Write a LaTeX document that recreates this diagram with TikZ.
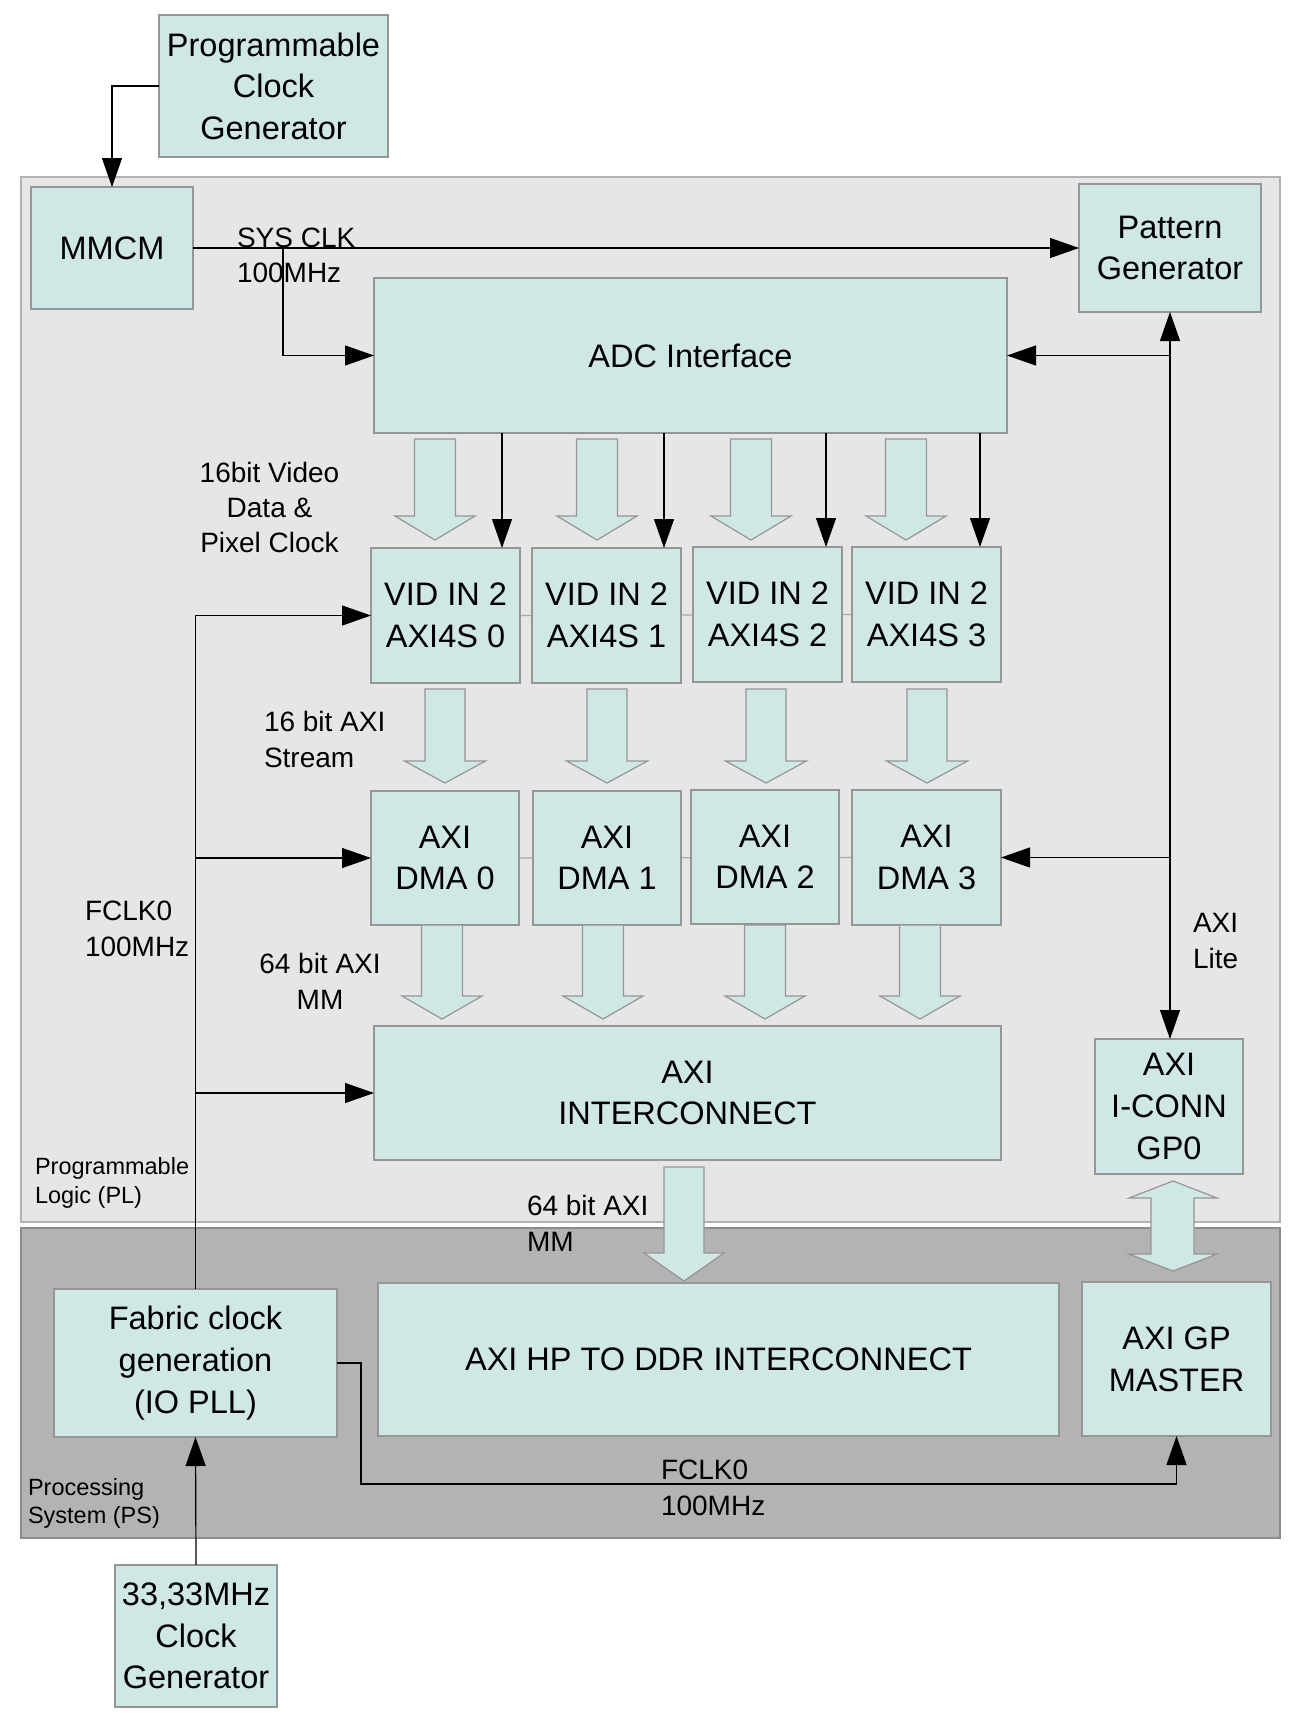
\documentclass[tikz,border=0pt]{standalone}
\usepackage{fontspec}
\setmainfont{Liberation Sans}
\usetikzlibrary{arrows.meta}
\definecolor{boxfill}{RGB}{207,231,229}
\definecolor{boxline}{RGB}{150,150,150}
\definecolor{plfill}{RGB}{230,230,230}
\definecolor{plline}{RGB}{178,178,178}
\definecolor{psfill}{RGB}{179,179,179}
\definecolor{psline}{RGB}{140,140,140}
\definecolor{faintline}{RGB}{170,170,170}
\pgfdeclarelayer{bg}\pgfdeclarelayer{mid}\pgfsetlayers{bg,mid,main}
\newcommand\centerlines[2]{\vtop{\baselineskip=#1\lineskiplimit=-20pt\tabskip=0pt\halign{\hfil##\hfil\cr#2\crcr}}}
\newcommand\leftlines[2]{\vtop{\baselineskip=#1\lineskiplimit=-20pt\tabskip=0pt\halign{##\hfil\cr#2\crcr}}}
% style, name, x1, y1, x2, y2, text
\newcommand\rectnode[7]{\node[#1,minimum width={(#5-#3)*0.5pt},minimum height={(#6-#4)*0.5pt}] (#2) at ({(#3+#5)/2},{(#4+#6)/2}) {#7};}
% cx, ytop, yhead, ytip, shaft half, head half
\newcommand\blockarrow[6]{\draw[barrow] ({#1-#5},#2) -- ({#1+#5},#2) -- ({#1+#5},#3) -- ({#1+#6},#3) -- (#1,#4) -- ({#1-#6},#3) -- ({#1-#5},#3) -- cycle;}
\tikzset{
  box/.style={draw=boxline,fill=boxfill,line width=0.6pt,inner sep=0pt,outer sep=0pt,align=center,
    font=\fontsize{16.25pt}{20.8pt}\selectfont},
  plreg/.style={draw=plline,fill=plfill,line width=0.6pt,inner sep=0pt,outer sep=0pt},
  psreg/.style={draw=psline,fill=psfill,line width=0.6pt,inner sep=0pt,outer sep=0pt},
  barrow/.style={draw=boxline,fill=boxfill,line width=0.6pt,line join=miter},
  conn/.style={draw=black,line width=0.6pt,-{Triangle[length=14.5pt,width=10pt]}},
  biconn/.style={draw=black,line width=0.6pt,{Triangle[length=14.5pt,width=10pt]}-{Triangle[length=14.5pt,width=10pt]}},
  plainline/.style={draw=black,line width=0.6pt},
  faint/.style={draw=faintline,line width=0.6pt},
  lab/.style={inner sep=0pt,outer sep=0pt,font=\fontsize{14pt}{18pt}\selectfont},
  tinylab/.style={inner sep=0pt,outer sep=0pt,font=\fontsize{11.75pt}{14pt}\selectfont},
}
\begin{document}
\begin{tikzpicture}[x=0.5pt,y=-0.5pt]
\useasboundingbox (0,0) rectangle (1297,1724);
\begin{pgfonlayer}{bg}
\fill[white] (0,0) rectangle (1297,1724);
\rectnode{plreg}{pl}{21}{177}{1280}{1222}{}
\rectnode{psreg}{ps}{21}{1228}{1280}{1538}{}
\end{pgfonlayer}

% boxes
\rectnode{box}{pcg}{159}{15}{388}{157}{Programmable\\Clock\\Generator}
\rectnode{box}{mmcm}{31}{187}{193}{309}{MMCM}
\rectnode{box}{patgen}{1079}{184}{1261}{312}{Pattern\\Generator}
\rectnode{box}{adc}{374}{278}{1007}{433}{ADC Interface}
\rectnode{box}{vid0}{371}{548}{520}{683}{VID IN 2\\AXI4S 0}
\rectnode{box}{vid1}{532}{548}{681}{683}{VID IN 2\\AXI4S 1}
\rectnode{box}{vid2}{693}{547}{842}{682}{VID IN 2\\AXI4S 2}
\rectnode{box}{vid3}{852}{547}{1001}{682}{VID IN 2\\AXI4S 3}
\rectnode{box}{dma0}{371}{791}{519}{925}{AXI\\DMA 0}
\rectnode{box}{dma1}{533}{791}{681}{925}{AXI\\DMA 1}
\rectnode{box}{dma2}{691}{790}{839}{924}{AXI\\DMA 2}
\rectnode{box}{dma3}{852}{790}{1001}{925}{AXI\\DMA 3}
\rectnode{box}{ic}{374}{1026}{1001}{1160}{AXI\\INTERCONNECT}
\rectnode{box}{iconn}{1095}{1039}{1243}{1174}{AXI\\I-CONN\\GP0}
\rectnode{box}{fabric}{54}{1289}{337}{1437}{Fabric clock\\generation\\(IO PLL)}
\rectnode{box}{hp}{378}{1283}{1059}{1436}{AXI HP TO DDR INTERCONNECT}
\rectnode{box}{gp}{1082}{1282}{1271}{1436}{AXI GP\\MASTER}
\rectnode{box}{clk33}{115}{1565}{277}{1707}{33,33MHz\\Clock\\Generator}

% faint lines between boxes
\begin{pgfonlayer}{mid}
\draw[faint] (vid0.east) -- (vid3.west);
\draw[faint] (dma0.east) -- (dma3.west);
\end{pgfonlayer}

% block arrows ADC -> VID
\blockarrow{435}{439}{516}{540}{20.5}{40}
\blockarrow{597}{439}{516}{540}{20.5}{40}
\blockarrow{751}{439}{516}{540}{20.5}{40}
\blockarrow{906}{439}{516}{540}{20.5}{40}
% VID -> DMA
\blockarrow{445}{689}{761}{783}{20}{40.5}
\blockarrow{607}{689}{761}{783}{20}{40.5}
\blockarrow{766}{689}{761}{783}{20}{40.5}
\blockarrow{927}{689}{761}{783}{20}{40.5}
% DMA -> IC
\blockarrow{442}{925}{996}{1019}{20.5}{40}
\blockarrow{603}{925}{996}{1019}{20.5}{40}
\blockarrow{765}{925}{996}{1019}{20.5}{40}
\blockarrow{920}{925}{996}{1019}{20.5}{40}
% IC -> HP
\blockarrow{684}{1167}{1253}{1281}{20}{40}
% double arrow I-CONN <-> GP
\draw[barrow] (1173,1181) -- (1217,1198) -- (1194,1198) -- (1194,1254) -- (1217,1254) -- (1173,1271)
  -- (1129,1254) -- (1151,1254) -- (1151,1198) -- (1129,1198) -- cycle;

% thin arrows ADC -> VID
\draw[conn] (adc.south -| 502,0) -- (502,548);
\draw[conn] (adc.south -| 664,0) -- (664,548);
\draw[conn] (adc.south -| 826,0) -- (826,547);
\draw[conn] (adc.south -| 980,0) -- (980,547);

% clock connectors
\draw[conn] (pcg.west) -| (mmcm.north);
\draw[conn] (mmcm.east) -- (patgen.west);
\coordinate (sysbr) at (283,248);
\draw[conn] (sysbr) |- (adc.west);
\draw[biconn] (patgen.south) -- (patgen.south |- iconn.north);
\draw[conn] (patgen.south |- adc.east) -- (adc.east);
\draw[conn] (patgen.south |- dma3.east) -- (dma3.east);
\draw[conn] (fabric.north) |- (vid0.west);
\draw[conn] (fabric.north |- dma0.west) -- (dma0.west);
\draw[conn] (fabric.north |- ic.west) -- (ic.west);
\coordinate (fk1) at (361,1484);
\draw[conn] (fabric.east) -| (fk1) -| (gp.south);
\draw[conn] (clk33.north) -- (fabric.south);

% labels
\node[lab,anchor=base west] (lsys) at (237,247) {\leftlines{17.5pt}{SYS CLK\cr 100MHz}};
\node[lab,anchor=base] (lvid) at (269.5,482) {\centerlines{17.5pt}{16bit Video\cr Data \&\cr Pixel Clock}};
\node[lab,anchor=base west] (lstream) at (264,731) {\leftlines{18pt}{16 bit AXI\cr Stream}};
\node[lab,anchor=base west] (lfclk) at (85,920) {\leftlines{18pt}{FCLK0\cr 100MHz}};
\node[lab,anchor=base] (lmm) at (320,973) {\centerlines{18pt}{64 bit AXI\cr MM}};
\node[lab,anchor=base west] (llite) at (1193,932) {\leftlines{18pt}{AXI\cr Lite}};
\node[lab,anchor=base west] (lmm2) at (527,1215) {\leftlines{18pt}{64 bit AXI\cr MM}};
\node[lab,anchor=base west] (lfclk2) at (661,1479) {\leftlines{18pt}{FCLK0\cr 100MHz}};
\node[tinylab,anchor=base west] (lpl) at (35,1174) {\leftlines{14.5pt}{Programmable\cr Logic (PL)}};
\node[tinylab,anchor=base west] (lps) at (28,1495) {\leftlines{14pt}{Processing\cr System (PS)}};
\end{tikzpicture}
\end{document}
